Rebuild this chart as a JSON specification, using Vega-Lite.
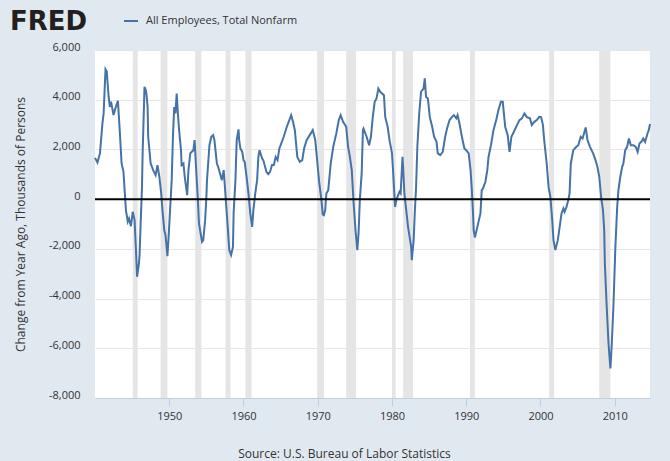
{
  "$schema": "https://vega.github.io/schema/vega-lite/v6.json",
  "width": 555,
  "height": 348,
  "autosize": {"type": "none"},
  "padding": {"left": 95, "top": 50, "right": 20, "bottom": 63},
  "background": "#E1E9F0",
  "title": {"text": "FRED", "anchor": "start", "frame": "group", "dx": -85, "dy": 26, "offset": -17, "font": "DejaVu Sans", "fontSize": 26, "fontWeight": 900, "color": "#231F20", "baseline": "alphabetic"},
  "datasets": {
    "series": [
      {"date": "1940-01-01", "value": 1660},
      {"date": "1940-05-01", "value": 1475},
      {"date": "1940-09-01", "value": 1840},
      {"date": "1941-01-01", "value": 3045},
      {"date": "1941-03-01", "value": 3460},
      {"date": "1941-06-01", "value": 5220},
      {"date": "1941-08-01", "value": 5130},
      {"date": "1941-11-01", "value": 4120},
      {"date": "1942-01-01", "value": 3710},
      {"date": "1942-03-01", "value": 3920},
      {"date": "1942-07-01", "value": 3380},
      {"date": "1942-09-01", "value": 3580},
      {"date": "1943-02-01", "value": 3955},
      {"date": "1943-05-01", "value": 2775},
      {"date": "1943-08-01", "value": 1435},
      {"date": "1943-11-01", "value": 1100},
      {"date": "1944-03-01", "value": -440},
      {"date": "1944-06-01", "value": -910},
      {"date": "1944-08-01", "value": -780},
      {"date": "1944-11-01", "value": -1090},
      {"date": "1945-02-01", "value": -510},
      {"date": "1945-05-01", "value": -845},
      {"date": "1945-07-01", "value": -1920},
      {"date": "1945-09-01", "value": -3125},
      {"date": "1945-12-01", "value": -2580},
      {"date": "1946-01-01", "value": -2250},
      {"date": "1946-03-01", "value": -845},
      {"date": "1946-05-01", "value": 495},
      {"date": "1946-06-01", "value": 1840},
      {"date": "1946-09-01", "value": 4520},
      {"date": "1946-11-01", "value": 4390},
      {"date": "1946-12-01", "value": 4250},
      {"date": "1947-02-01", "value": 3710},
      {"date": "1947-03-01", "value": 2510},
      {"date": "1947-07-01", "value": 1435},
      {"date": "1947-11-01", "value": 1165},
      {"date": "1948-03-01", "value": 965},
      {"date": "1948-06-01", "value": 1370},
      {"date": "1948-09-01", "value": 900},
      {"date": "1948-12-01", "value": 230},
      {"date": "1949-02-01", "value": -440},
      {"date": "1949-05-01", "value": -1250},
      {"date": "1949-07-01", "value": -1450},
      {"date": "1949-10-01", "value": -2290},
      {"date": "1949-12-01", "value": -1515},
      {"date": "1950-02-01", "value": -575},
      {"date": "1950-05-01", "value": 765},
      {"date": "1950-07-01", "value": 2510},
      {"date": "1950-09-01", "value": 3710},
      {"date": "1950-11-01", "value": 3450},
      {"date": "1951-01-01", "value": 4250},
      {"date": "1951-03-01", "value": 3450},
      {"date": "1951-05-01", "value": 2775},
      {"date": "1951-08-01", "value": 1970},
      {"date": "1951-09-01", "value": 1370},
      {"date": "1951-12-01", "value": 1435},
      {"date": "1952-02-01", "value": 900},
      {"date": "1952-06-01", "value": 160},
      {"date": "1952-08-01", "value": 1165},
      {"date": "1952-11-01", "value": 1840},
      {"date": "1953-01-01", "value": 1900},
      {"date": "1953-04-01", "value": 1970},
      {"date": "1953-06-01", "value": 2375},
      {"date": "1953-08-01", "value": 1435},
      {"date": "1953-11-01", "value": 95},
      {"date": "1954-01-01", "value": -980},
      {"date": "1954-06-01", "value": -1715},
      {"date": "1954-08-01", "value": -1650},
      {"date": "1954-11-01", "value": -845},
      {"date": "1955-01-01", "value": 95},
      {"date": "1955-02-01", "value": 765},
      {"date": "1955-06-01", "value": 2170},
      {"date": "1955-09-01", "value": 2510},
      {"date": "1955-12-01", "value": 2575},
      {"date": "1956-02-01", "value": 2375},
      {"date": "1956-06-01", "value": 1435},
      {"date": "1956-08-01", "value": 1300},
      {"date": "1956-11-01", "value": 1035},
      {"date": "1957-02-01", "value": 765},
      {"date": "1957-05-01", "value": 1165},
      {"date": "1957-07-01", "value": 495},
      {"date": "1957-10-01", "value": -575},
      {"date": "1958-02-01", "value": -2050},
      {"date": "1958-05-01", "value": -2250},
      {"date": "1958-08-01", "value": -1920},
      {"date": "1958-09-01", "value": -575},
      {"date": "1958-12-01", "value": 765},
      {"date": "1959-02-01", "value": 2375},
      {"date": "1959-05-01", "value": 2805},
      {"date": "1959-06-01", "value": 2375},
      {"date": "1959-08-01", "value": 2040},
      {"date": "1959-11-01", "value": 1900},
      {"date": "1960-01-01", "value": 1570},
      {"date": "1960-03-01", "value": 1500},
      {"date": "1960-06-01", "value": 900},
      {"date": "1960-09-01", "value": 230},
      {"date": "1960-12-01", "value": -575},
      {"date": "1961-03-01", "value": -1115},
      {"date": "1961-05-01", "value": -440},
      {"date": "1961-08-01", "value": 230},
      {"date": "1961-11-01", "value": 765},
      {"date": "1962-01-01", "value": 1700},
      {"date": "1962-03-01", "value": 1970},
      {"date": "1962-07-01", "value": 1640},
      {"date": "1962-09-01", "value": 1570},
      {"date": "1963-02-01", "value": 1100},
      {"date": "1963-05-01", "value": 1005},
      {"date": "1963-08-01", "value": 1100},
      {"date": "1963-11-01", "value": 1370},
      {"date": "1964-02-01", "value": 1370},
      {"date": "1964-05-01", "value": 1700},
      {"date": "1964-08-01", "value": 1570},
      {"date": "1964-11-01", "value": 2040},
      {"date": "1965-06-01", "value": 2510},
      {"date": "1965-11-01", "value": 2910},
      {"date": "1966-06-01", "value": 3380},
      {"date": "1966-09-01", "value": 3110},
      {"date": "1966-12-01", "value": 2775},
      {"date": "1967-04-01", "value": 1700},
      {"date": "1967-08-01", "value": 1500},
      {"date": "1967-12-01", "value": 1570},
      {"date": "1968-03-01", "value": 2040},
      {"date": "1968-07-01", "value": 2375},
      {"date": "1968-12-01", "value": 2575},
      {"date": "1969-05-01", "value": 2775},
      {"date": "1969-09-01", "value": 2375},
      {"date": "1969-12-01", "value": 1570},
      {"date": "1970-03-01", "value": 765},
      {"date": "1970-07-01", "value": -40},
      {"date": "1970-09-01", "value": -615},
      {"date": "1970-11-01", "value": -645},
      {"date": "1971-01-01", "value": -440},
      {"date": "1971-03-01", "value": 230},
      {"date": "1971-06-01", "value": 360},
      {"date": "1971-10-01", "value": 1435},
      {"date": "1972-02-01", "value": 2105},
      {"date": "1972-07-01", "value": 2640},
      {"date": "1972-11-01", "value": 3180},
      {"date": "1973-02-01", "value": 3380},
      {"date": "1973-06-01", "value": 3110},
      {"date": "1973-11-01", "value": 2910},
      {"date": "1974-02-01", "value": 2105},
      {"date": "1974-05-01", "value": 1700},
      {"date": "1974-08-01", "value": 1165},
      {"date": "1974-11-01", "value": -175},
      {"date": "1975-02-01", "value": -1250},
      {"date": "1975-05-01", "value": -2050},
      {"date": "1975-07-01", "value": -1380},
      {"date": "1975-09-01", "value": -40},
      {"date": "1975-12-01", "value": 1035},
      {"date": "1976-02-01", "value": 2775},
      {"date": "1976-03-01", "value": 2840},
      {"date": "1976-08-01", "value": 2510},
      {"date": "1976-12-01", "value": 2170},
      {"date": "1977-03-01", "value": 2510},
      {"date": "1977-06-01", "value": 3310},
      {"date": "1977-09-01", "value": 3915},
      {"date": "1977-12-01", "value": 4050},
      {"date": "1978-03-01", "value": 4450},
      {"date": "1978-06-01", "value": 4320},
      {"date": "1978-09-01", "value": 4250},
      {"date": "1978-12-01", "value": 4180},
      {"date": "1979-02-01", "value": 3310},
      {"date": "1979-06-01", "value": 2910},
      {"date": "1979-09-01", "value": 2375},
      {"date": "1980-01-01", "value": 1840},
      {"date": "1980-03-01", "value": 1035},
      {"date": "1980-06-01", "value": -310},
      {"date": "1980-08-01", "value": -40},
      {"date": "1980-12-01", "value": 230},
      {"date": "1981-01-01", "value": 295},
      {"date": "1981-03-01", "value": 230},
      {"date": "1981-06-01", "value": 1700},
      {"date": "1981-07-01", "value": 1300},
      {"date": "1981-09-01", "value": 230},
      {"date": "1981-12-01", "value": -440},
      {"date": "1982-03-01", "value": -1115},
      {"date": "1982-08-01", "value": -1920},
      {"date": "1982-09-01", "value": -2455},
      {"date": "1982-12-01", "value": -1650},
      {"date": "1983-02-01", "value": -440},
      {"date": "1983-04-01", "value": 495},
      {"date": "1983-06-01", "value": 2105},
      {"date": "1983-09-01", "value": 3450},
      {"date": "1983-12-01", "value": 4320},
      {"date": "1984-04-01", "value": 4450},
      {"date": "1984-06-01", "value": 4860},
      {"date": "1984-08-01", "value": 4120},
      {"date": "1984-11-01", "value": 4050},
      {"date": "1985-02-01", "value": 3310},
      {"date": "1985-06-01", "value": 2910},
      {"date": "1985-09-01", "value": 2510},
      {"date": "1986-01-01", "value": 2305},
      {"date": "1986-03-01", "value": 1840},
      {"date": "1986-07-01", "value": 1770},
      {"date": "1986-11-01", "value": 1900},
      {"date": "1987-03-01", "value": 2510},
      {"date": "1987-06-01", "value": 2840},
      {"date": "1987-10-01", "value": 3180},
      {"date": "1988-02-01", "value": 3310},
      {"date": "1988-05-01", "value": 3380},
      {"date": "1988-09-01", "value": 3250},
      {"date": "1988-11-01", "value": 3380},
      {"date": "1989-02-01", "value": 3045},
      {"date": "1989-06-01", "value": 2510},
      {"date": "1989-10-01", "value": 2040},
      {"date": "1990-01-01", "value": 1970},
      {"date": "1990-05-01", "value": 1840},
      {"date": "1990-08-01", "value": 1165},
      {"date": "1990-10-01", "value": 400},
      {"date": "1990-12-01", "value": -575},
      {"date": "1991-01-01", "value": -1250},
      {"date": "1991-03-01", "value": -1540},
      {"date": "1991-07-01", "value": -1115},
      {"date": "1991-12-01", "value": -575},
      {"date": "1992-02-01", "value": 360},
      {"date": "1992-04-01", "value": 430},
      {"date": "1992-08-01", "value": 700},
      {"date": "1992-11-01", "value": 1165},
      {"date": "1993-01-01", "value": 1700},
      {"date": "1993-05-01", "value": 2170},
      {"date": "1993-09-01", "value": 2775},
      {"date": "1994-02-01", "value": 3245},
      {"date": "1994-05-01", "value": 3580},
      {"date": "1994-09-01", "value": 3915},
      {"date": "1994-12-01", "value": 3915},
      {"date": "1995-04-01", "value": 2910},
      {"date": "1995-08-01", "value": 2575},
      {"date": "1995-11-01", "value": 1900},
      {"date": "1996-02-01", "value": 2510},
      {"date": "1996-06-01", "value": 2710},
      {"date": "1996-11-01", "value": 2980},
      {"date": "1997-03-01", "value": 3180},
      {"date": "1997-07-01", "value": 3250},
      {"date": "1997-11-01", "value": 3450},
      {"date": "1998-03-01", "value": 3300},
      {"date": "1998-08-01", "value": 3250},
      {"date": "1998-11-01", "value": 2980},
      {"date": "1999-03-01", "value": 3110},
      {"date": "1999-07-01", "value": 3180},
      {"date": "1999-11-01", "value": 3310},
      {"date": "2000-02-01", "value": 3300},
      {"date": "2000-05-01", "value": 2980},
      {"date": "2000-07-01", "value": 2375},
      {"date": "2000-11-01", "value": 1435},
      {"date": "2001-02-01", "value": 495},
      {"date": "2001-05-01", "value": 95},
      {"date": "2001-08-01", "value": -845},
      {"date": "2001-10-01", "value": -1650},
      {"date": "2002-01-01", "value": -2050},
      {"date": "2002-05-01", "value": -1650},
      {"date": "2002-08-01", "value": -1115},
      {"date": "2002-11-01", "value": -575},
      {"date": "2003-02-01", "value": -375},
      {"date": "2003-04-01", "value": -510},
      {"date": "2003-07-01", "value": -310},
      {"date": "2003-10-01", "value": -40},
      {"date": "2003-12-01", "value": 230},
      {"date": "2004-02-01", "value": 1435},
      {"date": "2004-06-01", "value": 1970},
      {"date": "2004-11-01", "value": 2105},
      {"date": "2005-02-01", "value": 2170},
      {"date": "2005-06-01", "value": 2510},
      {"date": "2005-09-01", "value": 2440},
      {"date": "2006-02-01", "value": 2885},
      {"date": "2006-05-01", "value": 2375},
      {"date": "2006-09-01", "value": 2105},
      {"date": "2007-02-01", "value": 1840},
      {"date": "2007-06-01", "value": 1570},
      {"date": "2007-09-01", "value": 1300},
      {"date": "2007-12-01", "value": 900},
      {"date": "2008-03-01", "value": 95},
      {"date": "2008-06-01", "value": -440},
      {"date": "2008-08-01", "value": -1250},
      {"date": "2008-09-01", "value": -2590},
      {"date": "2008-12-01", "value": -4330},
      {"date": "2009-03-01", "value": -5810},
      {"date": "2009-06-01", "value": -6810},
      {"date": "2009-08-01", "value": -5940},
      {"date": "2009-11-01", "value": -4200},
      {"date": "2010-02-01", "value": -1920},
      {"date": "2010-05-01", "value": -310},
      {"date": "2010-07-01", "value": 360},
      {"date": "2010-10-01", "value": 900},
      {"date": "2011-01-01", "value": 1300},
      {"date": "2011-03-01", "value": 1435},
      {"date": "2011-06-01", "value": 1970},
      {"date": "2011-09-01", "value": 2105},
      {"date": "2011-12-01", "value": 2440},
      {"date": "2012-03-01", "value": 2170},
      {"date": "2012-07-01", "value": 2170},
      {"date": "2012-11-01", "value": 2105},
      {"date": "2013-02-01", "value": 1900},
      {"date": "2013-05-01", "value": 2240},
      {"date": "2013-08-01", "value": 2305},
      {"date": "2013-11-01", "value": 2440},
      {"date": "2014-02-01", "value": 2305},
      {"date": "2014-06-01", "value": 2640},
      {"date": "2014-08-01", "value": 2775},
      {"date": "2014-10-01", "value": 3020}
    ],
    "recessions": [
      {"start": "1945-02-01", "end": "1945-10-01"},
      {"start": "1948-11-01", "end": "1949-10-01"},
      {"start": "1953-07-01", "end": "1954-05-01"},
      {"start": "1957-08-01", "end": "1958-04-01"},
      {"start": "1960-04-01", "end": "1961-02-01"},
      {"start": "1969-12-01", "end": "1970-11-01"},
      {"start": "1973-11-01", "end": "1975-03-01"},
      {"start": "1980-01-01", "end": "1980-07-01"},
      {"start": "1981-07-01", "end": "1982-11-01"},
      {"start": "1990-07-01", "end": "1991-03-01"},
      {"start": "2001-03-01", "end": "2001-11-01"},
      {"start": "2007-12-01", "end": "2009-06-01"}
    ],
    "zero": [{"value": 0}]
  },
  "layer": [
    {
      "data": {"name": "recessions"},
      "mark": {"type": "rect", "color": "#E5E5E5"},
      "encoding": {
        "x": {"field": "start", "type": "temporal"},
        "x2": {"field": "end"}
      }
    },
    {
      "data": {"name": "series"},
      "mark": {"type": "line", "strokeWidth": 2, "interpolate": "linear"},
      "encoding": {
        "x": {
          "field": "date", "type": "temporal",
          "scale": {"type": "utc", "domain": [{"year": 1940, "month": 1, "date": 1, "utc": true}, {"year": 2014, "month": 10, "date": 1, "utc": true}], "nice": false},
          "axis": {
            "values": [{"year": 1950, "utc": true}, {"year": 1960, "utc": true}, {"year": 1970, "utc": true}, {"year": 1980, "utc": true}, {"year": 1990, "utc": true}, {"year": 2000, "utc": true}, {"year": 2010, "utc": true}],
            "format": "%Y",
            "grid": false,
            "domain": true, "domainColor": "#C0D0E0", "domainWidth": 1,
            "ticks": true, "tickColor": "#C0D0E0", "tickSize": 8,
            "labelPadding": 4,
            "title": "Source: U.S. Bureau of Labor Statistics",
            "titleX": 249, "titleY": 59, "titleAlign": "center", "titleBaseline": "alphabetic",
            "titleFontWeight": "normal", "titleFontSize": 12
          }
        },
        "y": {
          "field": "value", "type": "quantitative",
          "scale": {"domain": [-8000, 6000], "nice": false, "zero": false},
          "axis": {
            "values": [-8000, -6000, -4000, -2000, 0, 2000, 4000, 6000],
            "labelExpr": "replace(format(datum.value, ','), '\u2212', '-')",
            "labelBaseline": "alphabetic",
            "grid": true, "gridColor": "#E6E6E6", "gridWidth": 1,
            "domain": false, "ticks": false,
            "labelPadding": 15,
            "title": "Change from Year Ago, Thousands of Persons",
            "titleX": -75, "titleY": 174, "titleAngle": -90, "titleAlign": "center", "titleBaseline": "middle",
            "titleFontWeight": "normal", "titleFontSize": 12
          }
        },
        "color": {
          "datum": "All Employees, Total Nonfarm",
          "type": "nominal",
          "scale": {"range": ["#4572A7"]},
          "legend": {
            "title": null, "orient": "none", "legendX": 28, "legendY": -37,
            "symbolType": "stroke", "symbolStrokeWidth": 2, "symbolSize": 196,
            "labelFontSize": 11, "labelColor": "#333333", "labelOffset": 7, "padding": 0
          }
        }
      }
    },
    {
      "data": {"name": "zero"},
      "mark": {"type": "rule", "color": "#000000", "strokeWidth": 2},
      "encoding": {"y": {"field": "value", "type": "quantitative"}}
    }
  ],
  "config": {
    "view": {"stroke": null, "fill": "#FFFFFF"},
    "font": "Open Sans",
    "axis": {"labelFont": "Open Sans", "labelFontSize": 11, "labelColor": "#333333", "titleFont": "Open Sans", "titleColor": "#333333"},
    "legend": {"labelFont": "Open Sans"}
  }
}
